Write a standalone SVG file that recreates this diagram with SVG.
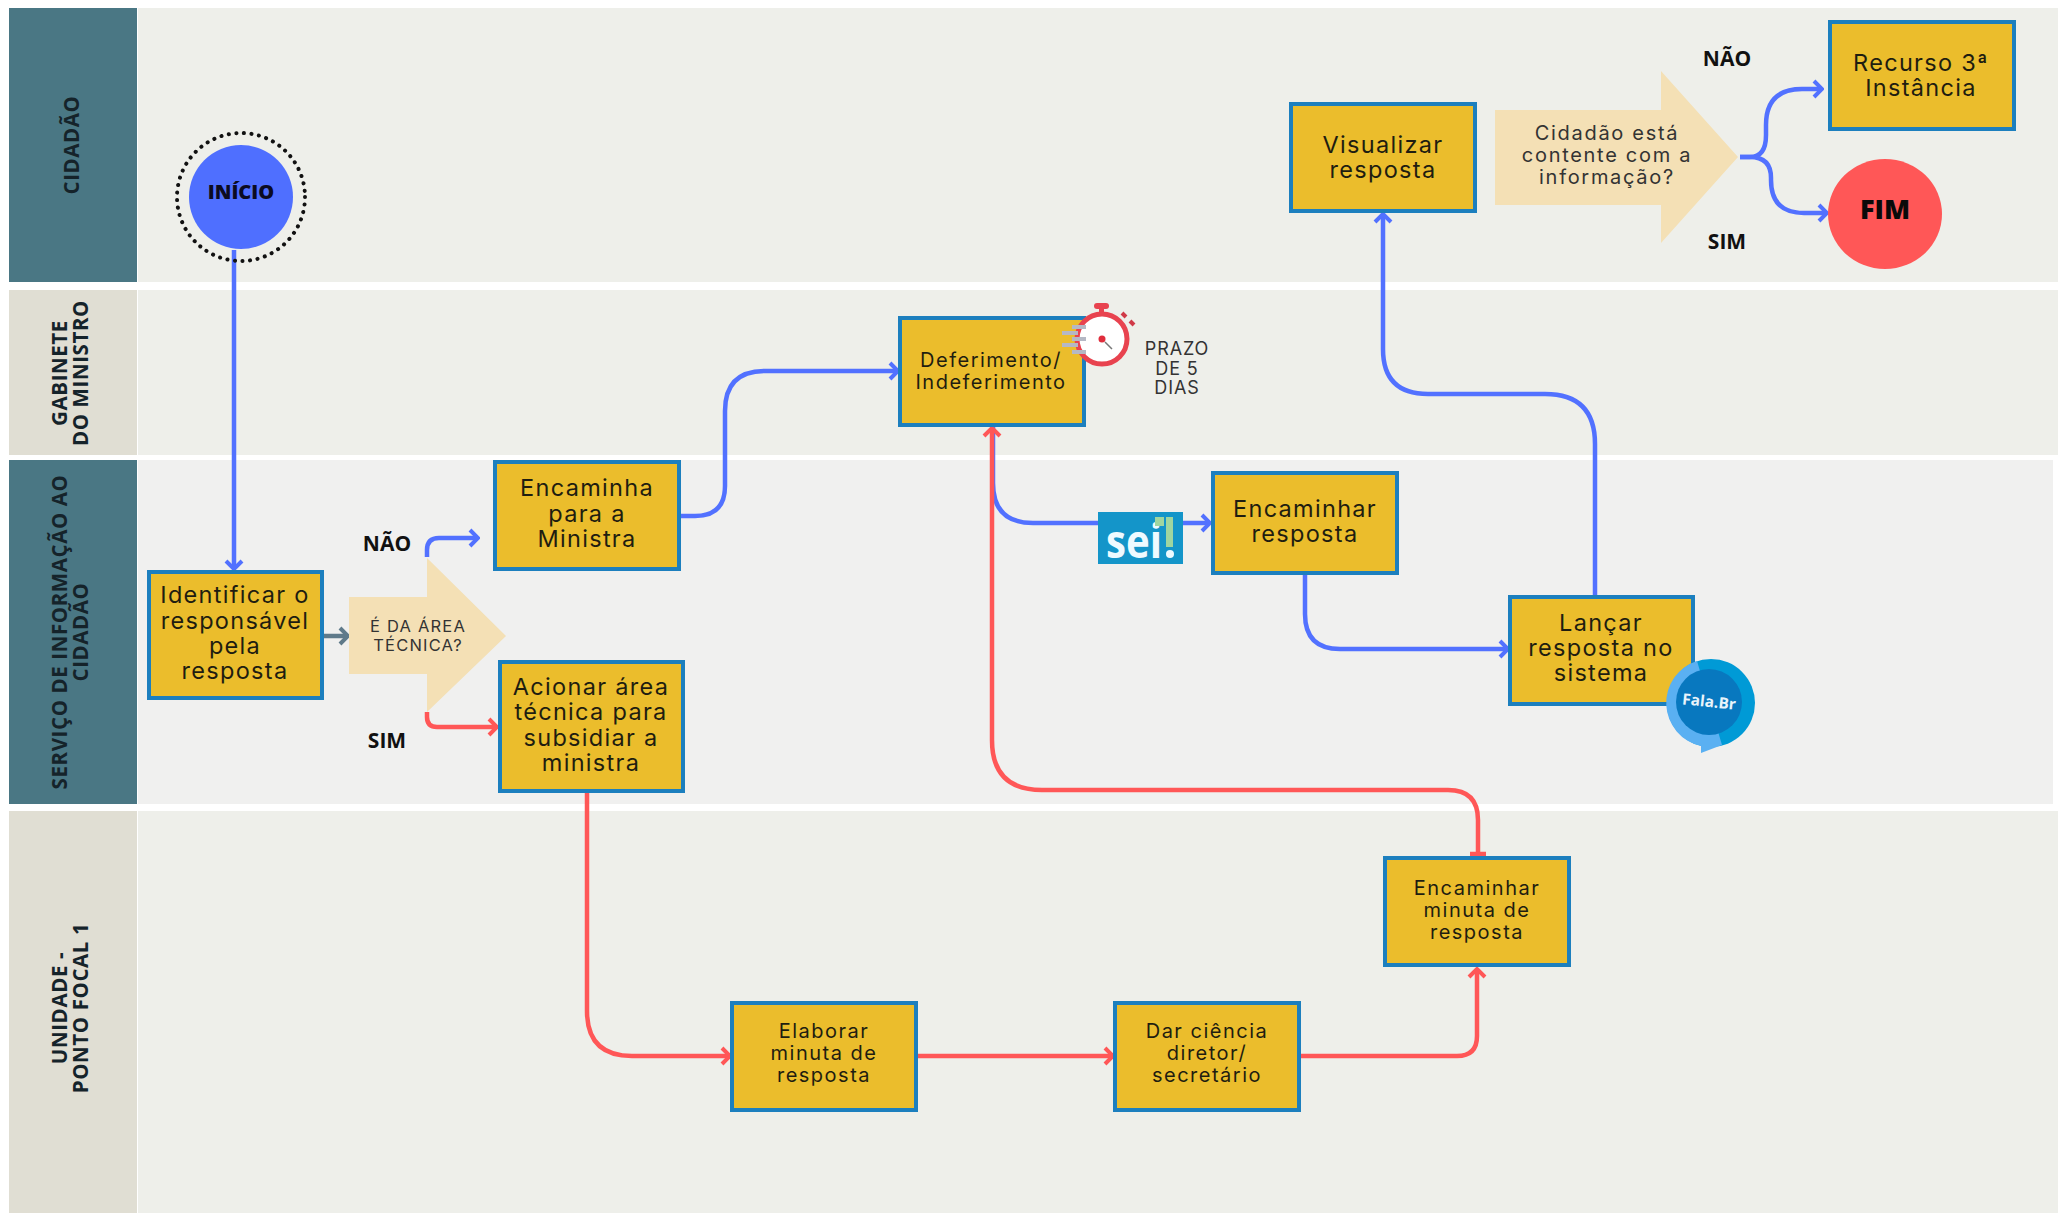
<svg xmlns="http://www.w3.org/2000/svg" width="2058" height="1213" viewBox="0 0 2058 1213">
<style>
.hd{fill:#4a7784}.hl{fill:#e0ded3}.bd{fill:#eeefea}
.lane{font:700 20.5px "Open Sans","Liberation Sans",sans-serif;letter-spacing:.6px;fill:#15232a;text-anchor:middle}
.box{fill:#ebbd2c;stroke:#1c7fbe;stroke-width:4}
.t{font-family:Inter,"Liberation Sans",sans-serif;fill:#1f1d10;text-anchor:middle}
.a{font-size:23.5px;letter-spacing:1.3px}.b{font-size:20px;letter-spacing:1.5px}
.dec{fill:#f4e0b5}
.q{font-family:Inter,"Liberation Sans",sans-serif;fill:#333;text-anchor:middle}
.yn{font:700 21px "Open Sans","Liberation Sans",sans-serif;fill:#111;text-anchor:middle}
.c{fill:none;stroke-width:4.5;stroke-linejoin:round}
.bl{stroke:#5271ff}.rd{stroke:#ff5757}.gr{stroke:#5f7a8a}
</style>
<defs>
<marker id="mb" viewBox="0 0 14 20" refX="12" refY="10" markerWidth="14" markerHeight="20" markerUnits="userSpaceOnUse" orient="auto"><path d="M4 2L12 10L4 18" fill="none" stroke="#5271ff" stroke-width="4"/></marker>
<marker id="mr" viewBox="0 0 14 20" refX="12" refY="10" markerWidth="14" markerHeight="20" markerUnits="userSpaceOnUse" orient="auto"><path d="M4 2L12 10L4 18" fill="none" stroke="#ff5757" stroke-width="4"/></marker>
<marker id="mg" viewBox="0 0 14 20" refX="12" refY="10" markerWidth="14" markerHeight="20" markerUnits="userSpaceOnUse" orient="auto"><path d="M4 2L12 10L4 18" fill="none" stroke="#5f7a8a" stroke-width="4"/></marker>
</defs>
<rect width="2058" height="1213" fill="#fff"/>
<g id="lanes">
<rect class="bd" x="138" y="8" width="1920" height="274"/>
<rect class="bd" x="138" y="290" width="1920" height="165"/>
<rect x="138" y="460" width="1915" height="344" fill="#f0f0ef"/>
<rect class="bd" x="138" y="811" width="1920" height="402"/>
<rect class="hd" x="9" y="8" width="128" height="274"/>
<rect class="hl" x="9" y="290" width="128" height="165"/>
<rect class="hd" x="9" y="460" width="128" height="344"/>
<rect class="hl" x="9" y="811" width="128" height="402"/>
<text class="lane" transform="translate(79,145) rotate(-90)">CIDADÃO</text>
<text class="lane" transform="translate(67,373) rotate(-90)"><tspan x="0">GABINETE</tspan><tspan x="0" dy="21">DO MINISTRO</tspan></text>
<text class="lane" transform="translate(67,632) rotate(-90)"><tspan x="0">SERVIÇO DE INFORMAÇÃO AO</tspan><tspan x="0" dy="21">CIDADÃO</tspan></text>
<text class="lane" transform="translate(67,1008) rotate(-90)"><tspan x="0">UNIDADE -</tspan><tspan x="0" dy="21">PONTO FOCAL 1</tspan></text>
</g>
<g id="connectors">
<path class="c bl" d="M234 250V569" marker-end="url(#mb)"/>
<path class="c gr" d="M322 636H348" marker-end="url(#mg)"/>
<path class="c bl" d="M427 557V550Q427 538 439 538H478" marker-end="url(#mb)"/>
<path class="c rd" d="M427 712V717Q427 727 437 727H497" marker-end="url(#mr)"/>
<path class="c bl" d="M680 516H695Q725 516 725 486V411Q725 371 765 371H898" marker-end="url(#mb)"/>
<path class="c bl" d="M993 427V483Q993 523 1033 523H1210" marker-end="url(#mb)"/>
<path class="c bl" d="M1305 574V614Q1305 649 1340 649H1508" marker-end="url(#mb)"/>
<path class="c bl" d="M1595 596V444Q1595 394 1545 394H1428Q1383 394 1383 349V214" marker-end="url(#mb)"/>
<path class="c rd" d="M587 791V1011Q587 1056 632 1056H730" marker-end="url(#mr)"/>
<path class="c rd" d="M916 1056H1113" marker-end="url(#mr)"/>
<path class="c rd" d="M1299 1056H1457Q1477 1056 1477 1036V969" marker-end="url(#mr)"/>
<path class="c rd" d="M1478 856V820Q1478 790 1448 790H1042Q992 790 992 740V428" marker-end="url(#mr)"/>
<path class="c rd" d="M1470 854H1486"/>
<path class="c bl" d="M1740 157H1750Q1766 157 1766 135V125Q1766 89 1802 89H1822" marker-end="url(#mb)"/>
<path class="c bl" d="M1740 157H1750Q1771 157 1771 178V180Q1771 213 1804 213H1827" marker-end="url(#mb)"/>
</g>
<g id="inicio">
<circle cx="241" cy="197" r="64" fill="none" stroke="#111" stroke-width="4" stroke-dasharray="0.1 7.5" stroke-linecap="round"/>
<circle cx="241" cy="197" r="52" fill="#4f6fff"/>
<text x="241" y="199" style="font:800 20px 'Open Sans','Liberation Sans',sans-serif" fill="#0b0b22" text-anchor="middle">INÍCIO</text>
</g>
<g id="identificar"><rect class="box" x="149" y="572" width="173" height="126"/><text class="t a"><tspan x="235" y="603">Identificar o</tspan><tspan x="235" y="629">responsável</tspan><tspan x="235" y="654">pela</tspan><tspan x="235" y="679">resposta</tspan></text></g>
<g id="decisao-area"><path class="dec" d="M349 597H427V558L506 636L427 712V674H349Z"/><text class="q" font-size="16.5" letter-spacing="1.2"><tspan x="418" y="632">É DA ÁREA</tspan><tspan x="418" y="651">TÉCNICA?</tspan></text></g>
<g id="nao1"><text class="yn" x="387" y="551">NÃO</text></g>
<g id="sim1"><text class="yn" x="387" y="748">SIM</text></g>
<g id="encaminha"><rect class="box" x="495" y="462" width="184" height="107"/><text class="t a"><tspan x="587" y="496">Encaminha</tspan><tspan x="587" y="522">para a</tspan><tspan x="587" y="547">Ministra</tspan></text></g>
<g id="acionar"><rect class="box" x="500" y="662" width="183" height="129"/><text class="t a"><tspan x="591" y="695">Acionar área</tspan><tspan x="591" y="720">técnica para</tspan><tspan x="591" y="746">subsidiar a</tspan><tspan x="591" y="771">ministra</tspan></text></g>
<g id="deferimento"><rect class="box" x="900" y="318" width="184" height="107"/><text class="t b"><tspan x="991" y="367">Deferimento/</tspan><tspan x="991" y="389">Indeferimento</tspan></text></g>
<g id="cronometro">
<rect x="1094" y="303" width="15" height="6" rx="3" fill="#e8434f"/>
<rect x="1099" y="308" width="5" height="6" fill="#e8434f"/>
<circle cx="1102" cy="339" r="25" fill="#fff" stroke="#e8434f" stroke-width="5"/>
<path d="M1122 313l4 4M1130 321l4 4" stroke="#d03a48" stroke-width="4"/>
<circle cx="1102" cy="339" r="3.5" fill="#e02d3c"/>
<path d="M1105 342l7 7" stroke="#777" stroke-width="1.5"/>
<g fill="#b5b8c4"><rect x="1062" y="331" width="16" height="4"/><rect x="1062" y="343" width="16" height="4"/><rect x="1072" y="325" width="14" height="4"/><rect x="1072" y="337" width="14" height="4"/><rect x="1072" y="350" width="14" height="4"/></g>
</g>
<g id="prazo"><text class="q" font-size="18" letter-spacing=".9"><tspan x="1177" y="355">PRAZO</tspan><tspan x="1177" y="375">DE 5</tspan><tspan x="1177" y="394">DIAS</tspan></text></g>
<g id="sei">
<rect x="1098" y="512" width="85" height="52" fill="#1495c9"/>
<text x="1134" y="558" style="font:700 46px 'Open Sans','Liberation Sans',sans-serif" fill="#eefaff" text-anchor="middle" textLength="56" lengthAdjust="spacingAndGlyphs">sei</text>
<rect x="1155" y="517" width="9" height="9" fill="#9fd6a0"/>
<rect x="1166" y="517" width="7" height="30" fill="#9fd6a0"/>
<circle cx="1170" cy="554" r="4" fill="#eefaff"/>
</g>
<g id="encaminhar-resposta"><rect class="box" x="1213" y="473" width="184" height="100"/><text class="t a"><tspan x="1305" y="517">Encaminhar</tspan><tspan x="1305" y="542">resposta</tspan></text></g>
<g id="lancar"><rect class="box" x="1510" y="597" width="183" height="107"/><text class="t a"><tspan x="1601" y="631">Lançar</tspan><tspan x="1601" y="656">resposta no</tspan><tspan x="1601" y="681">sistema</tspan></text></g>
<g id="falabr">
<circle cx="1711" cy="703" r="44" fill="#009ad6"/>
<path d="M1697 661A44 44 0 0 0 1701 746L1701 753L1722 745Z" fill="#5ab0f2"/>
<circle cx="1709" cy="702" r="33" fill="#0878bf"/>
<text x="1709" y="707" transform="rotate(6 1709 702)" style="font:700 15.5px 'Open Sans','Liberation Sans',sans-serif" fill="#e8f4fb" text-anchor="middle">Fala.Br</text>
</g>
<g id="visualizar"><rect class="box" x="1291" y="104" width="184" height="107"/><text class="t a"><tspan x="1383" y="153">Visualizar</tspan><tspan x="1383" y="178">resposta</tspan></text></g>
<g id="decisao-cidadao"><path class="dec" d="M1495 110H1661V71L1738 157L1661 243V205H1495Z"/><text class="q" font-size="20" letter-spacing="1.7"><tspan x="1607" y="140">Cidadão está</tspan><tspan x="1607" y="162">contente com a</tspan><tspan x="1607" y="184">informação?</tspan></text></g>
<g id="nao2"><text class="yn" x="1727" y="66">NÃO</text></g>
<g id="sim2"><text class="yn" x="1727" y="249">SIM</text></g>
<g id="recurso"><rect class="box" x="1830" y="22" width="184" height="107"/><text class="t a"><tspan x="1921" y="71">Recurso 3ª</tspan><tspan x="1921" y="96">Instância</tspan></text></g>
<g id="fim"><ellipse cx="1885" cy="214" rx="57" ry="55" fill="#ff5757"/><text x="1885" y="219" style="font:800 27px 'Open Sans','Liberation Sans',sans-serif" fill="#0a0a0a" text-anchor="middle">FIM</text></g>
<g id="elaborar"><rect class="box" x="732" y="1003" width="184" height="107"/><text class="t b"><tspan x="824" y="1038">Elaborar</tspan><tspan x="824" y="1060">minuta de</tspan><tspan x="824" y="1082">resposta</tspan></text></g>
<g id="dar-ciencia"><rect class="box" x="1115" y="1003" width="184" height="107"/><text class="t b"><tspan x="1207" y="1038">Dar ciência</tspan><tspan x="1207" y="1060">diretor/</tspan><tspan x="1207" y="1082">secretário</tspan></text></g>
<g id="encaminhar-minuta"><rect class="box" x="1385" y="858" width="184" height="107"/><text class="t b"><tspan x="1477" y="895">Encaminhar</tspan><tspan x="1477" y="917">minuta de</tspan><tspan x="1477" y="939">resposta</tspan></text></g>
</svg>
